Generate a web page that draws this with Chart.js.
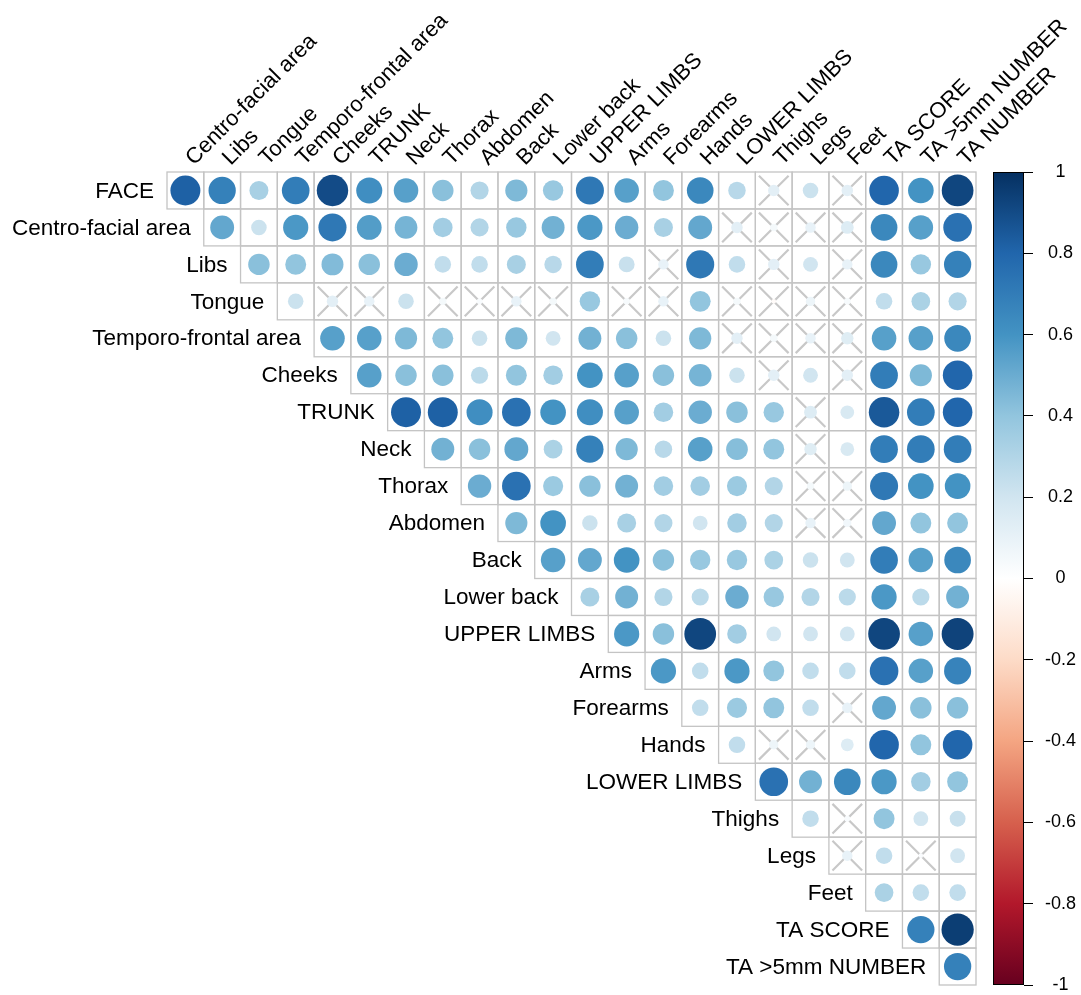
<!DOCTYPE html>
<html>
<head>
<meta charset="utf-8">
<script src="https://cdn.jsdelivr.net/npm/chart.js@4"></script>
<style>
  html, body { margin: 0; padding: 0; background: #ffffff; }
  #wrap { width: 1081px; height: 995px; }
</style>
</head>
<body>
<div id="wrap"><canvas id="corr" width="1081" height="995"></canvas></div>
<script>
// Variables of the correlation matrix (row order = column order)
const variables = [
  'FACE', 'Centro-facial area', 'Libs', 'Tongue', 'Temporo-frontal area', 'Cheeks',
  'TRUNK', 'Neck', 'Thorax', 'Abdomen', 'Back', 'Lower back',
  'UPPER LIMBS', 'Arms', 'Forearms', 'Hands',
  'LOWER LIMBS', 'Thighs', 'Legs', 'Feet',
  'TA SCORE', 'TA >5mm NUMBER', 'TA NUMBER'
];
const columnLabels = variables.slice(1);
const rowLabels = variables.slice(0, -1);

// Upper-triangle correlations: each row starts at the column right after its own variable
const face         = [0.82, 0.68, 0.33, 0.70, 0.90, 0.62, 0.55, 0.42, 0.30, 0.45, 0.38, 0.72, 0.55, 0.40, 0.65, 0.28, 0.12, 0.22, 0.12, 0.80, 0.60, 0.92];
const centroFacial = [0.52, 0.22, 0.58, 0.72, 0.56, 0.47, 0.35, 0.30, 0.38, 0.48, 0.58, 0.50, 0.33, 0.52, 0.12, 0.05, 0.10, 0.15, 0.65, 0.55, 0.75];
const libs         = [0.42, 0.40, 0.44, 0.42, 0.50, 0.25, 0.25, 0.33, 0.28, 0.70, 0.23, 0.10, 0.72, 0.25, 0.12, 0.20, 0.10, 0.65, 0.38, 0.68];
const tongue       = [0.22, 0.12, 0.10, 0.22, 0.05, 0.03, 0.10, 0.05, 0.38, 0.04, 0.10, 0.40, 0.05, -0.02, 0.08, 0.04, 0.25, 0.32, 0.30];
const temporo      = [0.55, 0.55, 0.45, 0.40, 0.22, 0.45, 0.20, 0.48, 0.42, 0.22, 0.45, 0.12, 0.05, 0.10, 0.14, 0.55, 0.55, 0.65];
const cheeks       = [0.55, 0.42, 0.42, 0.27, 0.40, 0.35, 0.60, 0.55, 0.42, 0.47, 0.22, 0.12, 0.20, 0.12, 0.70, 0.45, 0.80];
const trunk        = [0.82, 0.82, 0.62, 0.75, 0.60, 0.62, 0.55, 0.35, 0.50, 0.42, 0.38, 0.15, 0.17, 0.85, 0.70, 0.80];
const neck         = [0.48, 0.42, 0.52, 0.32, 0.68, 0.45, 0.28, 0.55, 0.43, 0.40, 0.14, 0.17, 0.70, 0.70, 0.70];
const thorax       = [0.50, 0.75, 0.37, 0.42, 0.48, 0.35, 0.35, 0.37, 0.30, 0.05, 0.08, 0.72, 0.60, 0.60];
const abdomen      = [0.45, 0.60, 0.22, 0.33, 0.30, 0.20, 0.35, 0.30, 0.10, 0.06, 0.52, 0.40, 0.40];
const back         = [0.55, 0.52, 0.60, 0.42, 0.38, 0.38, 0.32, 0.22, 0.20, 0.70, 0.55, 0.65];
const lowerBack    = [0.33, 0.48, 0.30, 0.27, 0.50, 0.38, 0.30, 0.27, 0.58, 0.27, 0.48];
const upperLimbs   = [0.58, 0.42, 0.92, 0.35, 0.20, 0.20, 0.20, 0.92, 0.55, 0.93];
const arms         = [0.58, 0.25, 0.58, 0.40, 0.25, 0.25, 0.75, 0.55, 0.67];
const forearms     = [0.25, 0.37, 0.40, 0.25, 0.10, 0.52, 0.42, 0.42];
const hands        = [0.25, 0.08, 0.08, 0.15, 0.80, 0.40, 0.80];
const lowerLimbs   = [0.75, 0.48, 0.65, 0.58, 0.35, 0.40];
const thighs       = [0.25, 0.03, 0.40, 0.20, 0.23];
const legs         = [0.10, 0.25, 0.02, 0.20];
const feet         = [0.32, 0.25, 0.25];
const taScore      = [0.68, 0.95];
const ta5mmNumber  = [0.68];

const matrixRows = [face, centroFacial, libs, tongue, temporo, cheeks, trunk, neck, thorax,
  abdomen, back, lowerBack, upperLimbs, arms, forearms, hands, lowerLimbs, thighs, legs,
  feet, taScore, ta5mmNumber];

// Non-significant cells, as [row, column] (crossed out)
const notSignificant = [
  [0, 16], [0, 18],
  [1, 15], [1, 16], [1, 17], [1, 18],
  [2, 13], [2, 16], [2, 18],
  [3, 4], [3, 5], [3, 7], [3, 8], [3, 9], [3, 10], [3, 12], [3, 13], [3, 15], [3, 16], [3, 17], [3, 18],
  [4, 15], [4, 16], [4, 17], [4, 18],
  [5, 16], [5, 18],
  [6, 17], [7, 17],
  [8, 17], [8, 18],
  [9, 17], [9, 18],
  [14, 18],
  [15, 16], [15, 17],
  [17, 18],
  [18, 18], [18, 20]
];

// Colour legend ticks
const legendTicks = [1, 0.8, 0.6, 0.4, 0.2, 0, -0.2, -0.4, -0.6, -0.8, -1];

// Diverging palette from -1 (dark red) to 1 (dark blue)
const paletteStops = ['#67001F', '#B2182B', '#D6604D', '#F4A582', '#FDDBC7', '#FFFFFF',
  '#D1E5F0', '#92C5DE', '#4393C3', '#2166AC', '#053061'];

function hexToRgb(h) {
  return [parseInt(h.slice(1, 3), 16), parseInt(h.slice(3, 5), 16), parseInt(h.slice(5, 7), 16)];
}
function colorFor(v) {
  const t = (Math.max(-1, Math.min(1, v)) + 1) / 2 * (paletteStops.length - 1);
  const i = Math.min(Math.floor(t), paletteStops.length - 2);
  const f = t - i;
  const a = hexToRgb(paletteStops[i]), b = hexToRgb(paletteStops[i + 1]);
  const c = a.map((x, k) => Math.round(x + (b[k] - x) * f));
  return `rgb(${c[0]},${c[1]},${c[2]})`;
}

// Layout (pixels)
const AREA_LEFT = 167, AREA_TOP = 172, AREA_RIGHT = 1024, AREA_BOTTOM = 985;
const GRID_RIGHT = 976, BAR_LEFT = 993;
const nCols = columnLabels.length;
const xMax = -0.5 + nCols * (AREA_RIGHT - AREA_LEFT) / (GRID_RIGHT - AREA_LEFT);
const FONT = "'Liberation Sans', Arial, Helvetica, sans-serif";

const circlePoints = [];
matrixRows.forEach((vals, r) => {
  vals.forEach((v, k) => circlePoints.push({ x: r + k, y: r, v }));
});
const crossPoints = notSignificant.map(([r, c]) => ({ x: c, y: r }));

function cellSize(chart) {
  const xs = chart.scales.x;
  return Math.abs(xs.getPixelForValue(1) - xs.getPixelForValue(0));
}

// Cell outlines of the upper triangle, row labels and the colour bar
const matrixDecor = {
  id: 'matrixDecor',
  beforeDatasetsDraw(chart) {
    const { ctx, scales: { x, y } } = chart;
    ctx.save();
    ctx.strokeStyle = '#c4c4c4';
    ctx.lineWidth = 1.3;
    for (let r = 0; r < rowLabels.length; r++) {
      for (let c = r; c < nCols; c++) {
        const x0 = x.getPixelForValue(c - 0.5), x1 = x.getPixelForValue(c + 0.5);
        const y0 = y.getPixelForValue(r - 0.5), y1 = y.getPixelForValue(r + 0.5);
        ctx.strokeRect(x0, y0, x1 - x0, y1 - y0);
      }
    }
    ctx.restore();
  },
  afterDraw(chart) {
    const { ctx, scales: { x, y, cb } } = chart;
    ctx.save();
    // row labels, right-aligned against the first cell of each row
    ctx.font = `22.5px ${FONT}`;
    ctx.fillStyle = '#000';
    ctx.textAlign = 'right';
    ctx.textBaseline = 'middle';
    rowLabels.forEach((lab, r) => {
      ctx.fillText(lab, x.getPixelForValue(r - 0.5) - 13, y.getPixelForValue(r) + 1);
    });
    // colour bar
    const top = cb.getPixelForValue(1), bottom = cb.getPixelForValue(-1);
    const right = chart.chartArea.right;
    const grad = ctx.createLinearGradient(0, top, 0, bottom);
    paletteStops.forEach((col, i) => {
      grad.addColorStop(1 - i / (paletteStops.length - 1), col);
    });
    ctx.fillStyle = grad;
    ctx.fillRect(BAR_LEFT, top, right - BAR_LEFT, bottom - top);
    ctx.strokeStyle = '#000';
    ctx.lineWidth = 1;
    ctx.strokeRect(BAR_LEFT + 0.5, top + 0.5, right - BAR_LEFT - 1, bottom - top - 1);
    ctx.restore();
  }
};

new Chart(document.getElementById('corr'), {
  type: 'scatter',
  data: {
    datasets: [
      {
        data: circlePoints,
        pointStyle: 'circle',
        pointRadius: (ctx) => 0.45 * Math.sqrt(Math.abs(ctx.raw.v)) * cellSize(ctx.chart),
        pointBackgroundColor: (ctx) => colorFor(ctx.raw.v),
        pointBorderWidth: 0
      },
      {
        data: crossPoints,
        pointStyle: 'crossRot',
        pointRadius: (ctx) => 0.57 * cellSize(ctx.chart),
        pointBorderColor: '#c8c8c8',
        pointBorderWidth: 2.2,
        pointBackgroundColor: 'rgba(0,0,0,0)'
      }
    ]
  },
  options: {
    responsive: false,
    animation: false,
    events: [],
    layout: { padding: { left: AREA_LEFT, top: 0, right: 0, bottom: 995 - AREA_BOTTOM } },
    plugins: { legend: { display: false }, tooltip: { enabled: false } },
    scales: {
      x: {
        type: 'linear',
        position: 'top',
        min: -0.5,
        max: xMax,
        afterBuildTicks: (s) => { s.ticks = columnLabels.map((_, i) => ({ value: i })); },
        afterFit: (s) => { s.height = AREA_TOP; s.paddingLeft = 0; s.paddingRight = 0; },
        ticks: {
          autoSkip: false,
          minRotation: 45,
          maxRotation: 45,
          padding: 1,
          labelOffset: 23,
          color: '#000',
          font: { family: FONT, size: 22 },
          callback: (v) => columnLabels[v]
        },
        grid: { display: false, drawTicks: false },
        border: { display: false }
      },
      y: {
        type: 'linear',
        min: -0.5,
        max: rowLabels.length - 0.5,
        reverse: true,
        display: false
      },
      cb: {
        type: 'linear',
        position: 'right',
        min: -1,
        max: 1,
        afterBuildTicks: (s) => { s.ticks = legendTicks.map((v) => ({ value: v })); },
        afterFit: (s) => { s.width = 1081 - AREA_RIGHT; s.paddingTop = 0; s.paddingBottom = 0; },
        ticks: {
          color: '#000',
          padding: 12,
          crossAlign: 'center',
          font: { family: FONT, size: 18 },
          callback: (v) => String(v)
        },
        grid: { drawOnChartArea: false, drawTicks: true, tickLength: 9, color: '#000', lineWidth: 1 },
        border: { display: false }
      }
    }
  },
  plugins: [matrixDecor]
});
</script>
</body>
</html>
